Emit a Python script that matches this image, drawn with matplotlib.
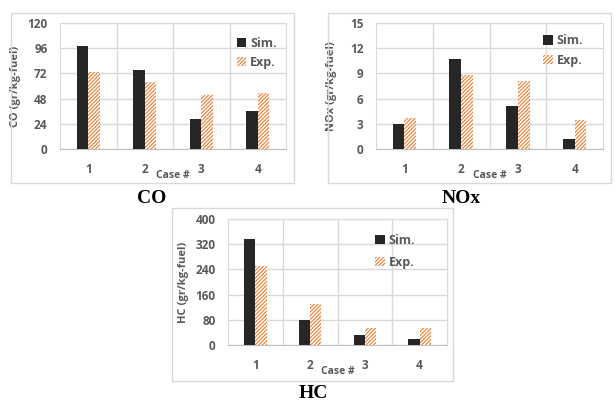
import matplotlib.pyplot as plt
import matplotlib.patches as mpatches
import numpy as np

W, H = 615, 405

cases = ["1", "2", "3", "4"]

co_sim = [98, 75.5, 29, 36]
co_exp = [73.5, 64, 51, 53.5]
co_ticks = [0, 24, 48, 72, 96, 120]

nox_sim = [3.0, 10.7, 5.1, 1.2]
nox_exp = [3.65, 8.85, 8.15, 3.4]
nox_ticks = [0, 3, 6, 9, 12, 15]

hc_sim = [336, 78, 31, 19]
hc_exp = [251, 129, 55, 53]
hc_ticks = [0, 80, 160, 240, 320, 400]

SIM_COLOR = "#262626"
EXP_COLOR = "#ED7D31"
GRID = "#d9d9d9"
TXT = "#595959"
FONT = "Open Sans"

plt.rcParams["hatch.linewidth"] = 0.8


def px_rect(x0, y0, x1, y1):
    # pixel box (top-left origin) -> figure fraction
    return [x0 / W, 1 - y1 / H, (x1 - x0) / W, (y1 - y0) / H]


def panel(fig, box, area, sim, exp, ticks, ylabel, title, title_xy, leg_anchor, leg_space):
    # outer frame
    fig.patches.append(mpatches.Rectangle((box[0] / W, 1 - box[3] / H),
                                          (box[2] - box[0]) / W, (box[3] - box[1]) / H,
                                          transform=fig.transFigure, fill=False,
                                          edgecolor=GRID, lw=1))
    ax = fig.add_axes(px_rect(*area))
    x = np.arange(len(cases))
    bw = 0.205
    ax.bar(x - bw / 2, sim, bw, color=SIM_COLOR, label="Sim.", zorder=3)
    ax.bar(x + bw / 2, exp, bw, color="white", edgecolor=EXP_COLOR, hatch="/////////",
           lw=0, label="Exp.", zorder=3)
    ax.set_xlim(-0.5, len(cases) - 0.5)
    ax.set_ylim(ticks[0], ticks[-1])
    ax.set_yticks(ticks)
    ax.set_xticks(x)
    ax.set_xticklabels(cases)
    ax.set_xticks(x[:-1] + 0.5, minor=True)
    ax.grid(axis="y", color=GRID, lw=1, zorder=0)
    ax.grid(axis="x", which="minor", color=GRID, lw=1, zorder=0)
    for s in ax.spines.values():
        s.set_color(GRID)
    ax.spines["bottom"].set_color("#bfbfbf")
    ax.tick_params(which="both", length=0)
    ax.tick_params(axis="y", pad=9, labelsize=8.5, labelcolor=TXT)
    ax.tick_params(axis="x", pad=10, labelsize=8.5, labelcolor=TXT)
    for lbl in ax.get_xticklabels() + ax.get_yticklabels():
        lbl.set_fontfamily(FONT)
        lbl.set_fontweight("bold")
    ah = area[3] - area[1]
    aw = area[2] - area[0]
    ax.set_ylabel(ylabel, fontsize=8, color=TXT, fontfamily=FONT, fontweight="bold")
    ax.yaxis.set_label_coords(-39 / aw, 0.5)
    ax.set_xlabel("Case #", fontsize=7.5, color=TXT, fontfamily=FONT, fontweight="bold",
                  va="center")
    ax.xaxis.set_label_coords(0.5, -27 / ah)
    leg = ax.legend(loc="upper left", bbox_to_anchor=leg_anchor, frameon=False,
                    handlelength=0.75, handleheight=0.75, handletextpad=0.3,
                    labelspacing=leg_space, borderaxespad=0,
                    prop={"family": FONT, "weight": "bold", "size": 9})
    for t in leg.get_texts():
        t.set_color(TXT)
    fig.text(title_xy[0] / W, 1 - title_xy[1] / H, title, ha="center", va="center",
             fontsize=14, fontweight="bold", fontfamily="Liberation Serif")
    return ax


fig = plt.figure(figsize=(W / 100, H / 100), dpi=100)

panel(fig, (11, 13, 294, 183), (60, 23, 286, 149), co_sim, co_exp, co_ticks,
      "CO (gr/kg-fuel)", "CO", (152, 198), (0.76, 0.93), 0.5)
panel(fig, (328, 13, 611, 183), (376, 23, 603, 149), nox_sim, nox_exp, nox_ticks,
      "NOx (gr/kg-fuel)", "NOx", (461, 198), (0.715, 0.95), 0.55)
panel(fig, (172, 208, 453, 381), (228, 219, 447, 345), hc_sim, hc_exp, hc_ticks,
      "HC (gr/kg-fuel)", "HC", (313, 394), (0.65, 0.92), 0.7)

fig.savefig("out.png", dpi=100)
